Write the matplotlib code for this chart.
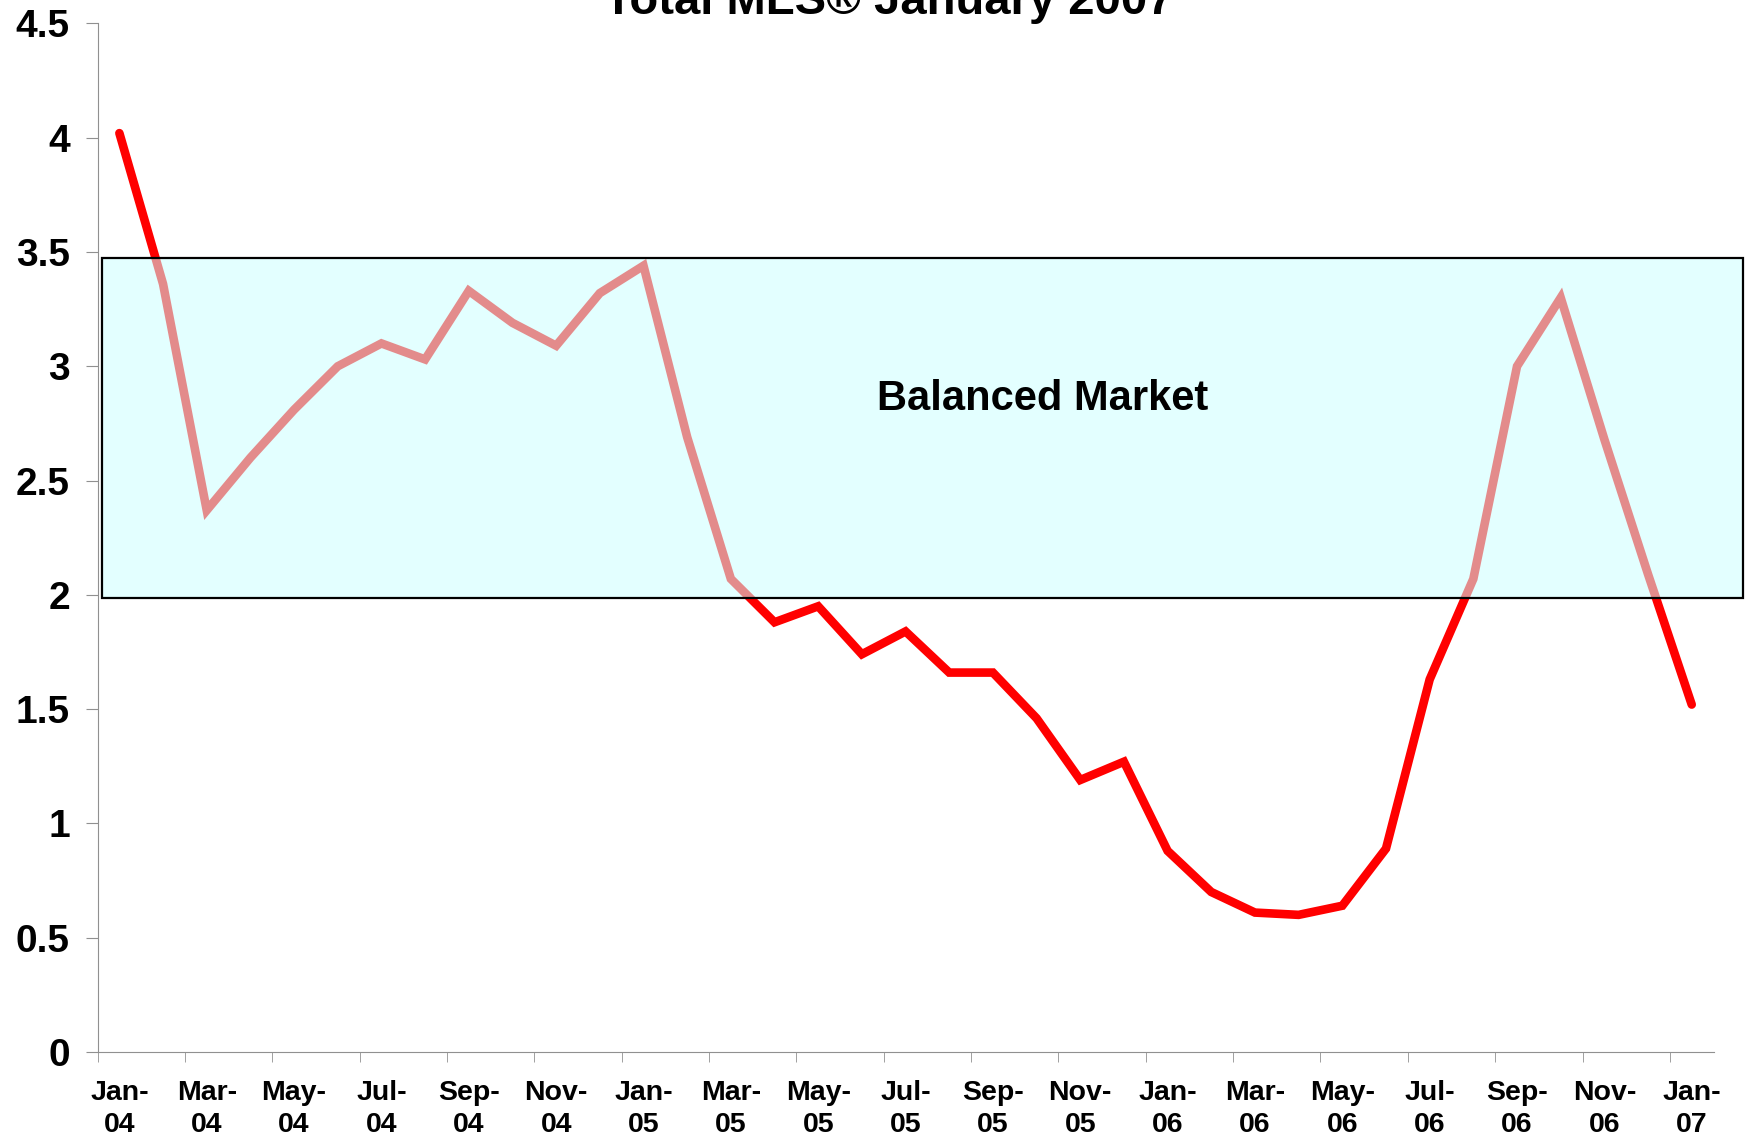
import matplotlib

matplotlib.use("Agg")
import matplotlib.pyplot as plt
from matplotlib.patches import Rectangle

# データ (月次, 2004年1月〜2007年1月)
months = [
    "Jan-04", "Feb-04", "Mar-04", "Apr-04", "May-04", "Jun-04", "Jul-04", "Aug-04", "Sep-04",
    "Oct-04", "Nov-04", "Dec-04", "Jan-05", "Feb-05", "Mar-05", "Apr-05", "May-05", "Jun-05",
    "Jul-05", "Aug-05", "Sep-05", "Oct-05", "Nov-05", "Dec-05", "Jan-06", "Feb-06", "Mar-06",
    "Apr-06", "May-06", "Jun-06", "Jul-06", "Aug-06", "Sep-06", "Oct-06", "Nov-06", "Dec-06",
    "Jan-07",
]
mls_values = [
    4.02, 3.36, 2.37, 2.60, 2.81, 3.00, 3.10, 3.03, 3.33,
    3.19, 3.09, 3.32, 3.44, 2.69, 2.07, 1.88, 1.95, 1.74,
    1.84, 1.66, 1.66, 1.46, 1.19, 1.27, 0.88, 0.70, 0.61,
    0.60, 0.64, 0.89, 1.63, 2.07, 3.00, 3.30, 2.68, 2.09,
    1.52,
]
balanced_low = 1.985
balanced_high = 3.475
y_ticks = [0, 0.5, 1, 1.5, 2, 2.5, 3, 3.5, 4, 4.5]
y_tick_labels = ["0", "0.5", "1", "1.5", "2", "2.5", "3", "3.5", "4", "4.5"]

plt.rcParams["font.family"] = ["Liberation Sans", "DejaVu Sans"]
plt.rcParams["font.weight"] = "bold"

fig = plt.figure(figsize=(17.48, 11.42), dpi=100)
ax = fig.add_axes([0.0558, 0.0788, 0.9245, 0.9007])

x = list(range(len(months)))
ax.plot(x, mls_values, color="#FF0000", linewidth=6.2, zorder=2,
        solid_joinstyle="miter", solid_capstyle="round")

# バランス市場の帯 (線の上に半透明で重ねる)
box = Rectangle(
    (-0.404, balanced_low),
    37.58,
    balanced_high - balanced_low,
    facecolor=(0.80, 1.0, 1.0, 0.55),
    edgecolor="black",
    linewidth=1.6,
    zorder=3,
    clip_on=False,
)
ax.add_patch(box)
ax.text(21.13, 2.81, "Balanced Market", fontsize=30, fontweight="bold",
        ha="center", va="baseline", zorder=4)

# 軸
ax.set_xlim(-0.5, len(months) - 0.5)
ax.set_ylim(0, 4.5)
ax.set_yticks(y_ticks)
ax.set_yticklabels(y_tick_labels, fontsize=28, fontweight="bold")

label_pos = x[::2]
ax.set_xticks(label_pos)
ax.set_xticklabels([m.replace("-", "-\n") for m in months[::2]],
                   fontsize=20.5, fontweight="bold", linespacing=1.3)
ax.set_xticks([p - 0.5 for p in label_pos], minor=True)
ax.tick_params(axis="x", which="major", length=0, pad=20)
ax.tick_params(axis="x", which="minor", length=7, color="#909090", direction="out")
ax.tick_params(axis="y", length=9, color="#909090", pad=11, direction="out")

ax.spines["top"].set_visible(False)
ax.spines["right"].set_visible(False)
ax.spines["left"].set_color("#909090")
ax.spines["bottom"].set_color("#909090")

fig.text(0.5087, 1 - 14 / 1142, "Total MLS\u00ae January 2007", fontsize=34,
         fontweight="bold", ha="center", va="baseline")

fig.savefig("out.png", dpi=100, facecolor="white")
plt.close(fig)
